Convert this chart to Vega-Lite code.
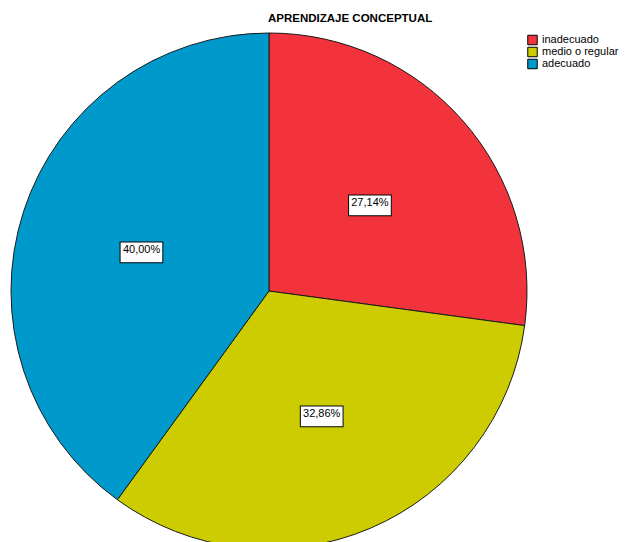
{
  "$schema": "https://vega.github.io/schema/vega-lite/v6.json",
  "width": 538,
  "height": 542,
  "autosize": "none",
  "padding": {"left": 0, "top": 20, "right": 89, "bottom": 0},
  "background": "white",
  "title": {
    "text": "APRENDIZAJE  CONCEPTUAL",
    "anchor": "start",
    "dx": 268,
    "offset": -4,
    "font": "Liberation Sans",
    "fontSize": 11.5,
    "fontWeight": "bold",
    "color": "black"
  },
  "data": {
    "values": [
      {"categoria": "inadecuado", "pct": 27.14, "orden": 1, "etiqueta": "27,14%"},
      {"categoria": "medio o regular", "pct": 32.86, "orden": 2, "etiqueta": "32,86%"},
      {"categoria": "adecuado", "pct": 40.0, "orden": 3, "etiqueta": "40,00%"}
    ]
  },
  "encoding": {
    "theta": {"field": "pct", "type": "quantitative", "stack": true},
    "order": {"field": "orden", "type": "quantitative"}
  },
  "layer": [
    {
      "mark": {"type": "arc", "outerRadius": 258, "stroke": "#1a1a1a", "strokeWidth": 1},
      "encoding": {
        "color": {
          "field": "categoria",
          "type": "nominal",
          "scale": {
            "domain": ["inadecuado", "medio o regular", "adecuado"],
            "range": ["#F2333C", "#CCCC00", "#0099CC"]
          },
          "legend": {
            "title": null,
            "orient": "none",
            "legendX": 527,
            "legendY": 14,
            "padding": 0,
            "symbolType": "square",
            "symbolSize": 90,
            "symbolStrokeColor": "black",
            "symbolStrokeWidth": 1,
            "symbolOpacity": 1,
            "labelFont": "Liberation Sans",
            "labelFontSize": 11,
            "labelColor": "black",
            "labelOffset": 4,
            "clipHeight": 12,
            "rowPadding": 0
          }
        }
      }
    },
    {
      "mark": {"type": "text", "radius": 134, "text": "▬", "font": "DejaVu Sans", "fontSize": 56, "fill": "white", "stroke": "black", "strokeWidth": 1, "baseline": "middle", "align": "center"}
    },
    {
      "mark": {"type": "text", "radius": 134, "font": "Liberation Sans", "fontSize": 11, "color": "black", "baseline": "middle", "align": "center"},
      "encoding": {"text": {"field": "etiqueta", "type": "nominal"}}
    }
  ]
}
